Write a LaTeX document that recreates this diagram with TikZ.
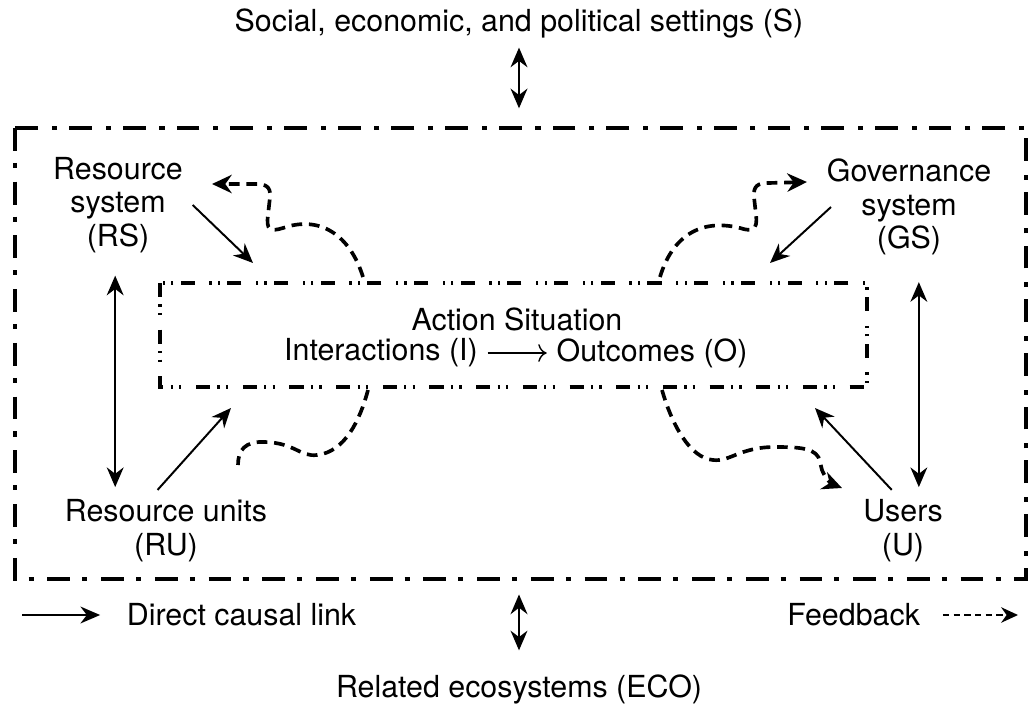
\documentclass[tikz,border=0pt]{standalone}
\usepackage{fontspec}
\setmainfont{TeX Gyre Heros}
\usetikzlibrary{arrows.meta}

\begin{document}
\begin{tikzpicture}[x=0.0125cm, y=-0.0125cm,
  txt/.style={font=\fontsize{10.8}{12}\selectfont, align=center},
  causal/.style={line width=0.7pt, -{Stealth[length=7pt,width=6pt]}},
  twoway/.style={line width=0.7pt, {Stealth[length=7pt,width=6pt]}-{Stealth[length=7pt,width=6pt]}},
  fdbk/.style={line width=1.3pt, dash pattern=on 3.8pt off 2.4pt},
  fdtip/.style={-{Stealth[length=7pt,width=6.5pt]}},
  sesbox/.style={line width=1.6pt, dash pattern=on 8.1pt off 4.3pt on 1.8pt off 4.9pt},
  asbox/.style={line width=1.2pt, dash pattern=on 5pt off 2.6pt on 0.8pt off 2.2pt on 0.8pt off 5.2pt}]

  \useasboundingbox (0,0) rectangle (1028,704);

  %--- outer setting and action situation ---
  \draw[sesbox] (15,128) rectangle (1026,579);
  \draw[asbox] (160,283) rectangle (867,387);
  \coordinate (sesN) at (519,128);
  \coordinate (sesS) at (519,579);

  %--- texts ---
  \node[txt] (S) at (519,23) {Social, economic, and political settings (S)};
  \node[txt] (RS) at (118,205) {Resource\\system\\(RS)};
  \node[txt] (GS) at (909,207) {Governance\\system\\(GS)};
  \node[txt] (RU) at (166,531) {Resource units\\(RU)};
  \node[txt] (U) at (903,531) {Users\\(U)};
  \node[txt] (AS) at (517,319) {Action Situation};
  \node[txt] (I) at (381,353) {Interactions (I)};
  \node[txt] (O) at (652,353) {Outcomes (O)};
  \node[txt] (ECO) at (519,689) {Related ecosystems (ECO)};

  %--- direct links ---
  \coordinate (inRS) at (253,263);
  \coordinate (inGS) at (770,263);
  \coordinate (inRU) at (231,408);
  \coordinate (inU) at (815,408);
  \draw[causal] (RS.east) -- (inRS);
  \draw[causal] ([xshift=5pt]GS.west) -- (inGS);
  \draw[causal] ([xshift=-3pt]RU.north) -- (inRU);
  \draw[causal] ([xshift=-4pt]U.north) -- (inU);
  \draw[line width=0.5pt, -{To[length=3pt]}] (I) -- (O);
  \draw[twoway, shorten <=4.5pt, shorten >=1pt] ([xshift=-1pt]RS.south) -- ([xshift=-1pt]RS.south |- RU.north);
  \draw[twoway, shorten <=6pt, shorten >=1pt] ([xshift=3.5pt]GS.south) -- ([xshift=3.5pt]GS.south |- U.north);
  \draw[twoway, shorten >=7pt] (S.south) -- (sesN);
  \draw[twoway, shorten <=5.5pt, shorten >=5pt] (sesS) -- (ECO.north);

  %--- feedbacks ---
  \draw[fdbk, fdtip] (363,277) .. controls (350,235) and (320,215) .. (283,228)
    .. controls (270,232) and (266,230) .. (268,215) -- (270,197)
    .. controls (271,186) and (265,184) .. (255,184) -- (212,184);
  \draw[fdbk, fdtip] (660,277) .. controls (672,237) and (700,218) .. (740,228)
    .. controls (752,232) and (758,230) .. (756,215) -- (754,197)
    .. controls (753,186) and (758,183) .. (768,183) -- (807,182);
  \draw[fdbk] (368,390) .. controls (360,420) and (345,452) .. (317,455)
    .. controls (300,457) and (295,443) .. (265,442)
    .. controls (245,441) and (238,450) .. (238,465);
  \draw[fdbk, fdtip] (662,390) .. controls (672,425) and (690,458) .. (713,460)
    .. controls (730,462) and (740,447) .. (775,447)
    .. controls (800,447) and (818,448) .. (820,462) -- (822,470)
    .. controls (826,480) and (832,484) .. (842,488);

  %--- legend ---
  \node[txt, anchor=west] (causalkey) at (117,615) {Direct causal link};
  \node[txt, anchor=east] (fbkey) at (930,615) {Feedback};
  \coordinate (ckey) at (22,615);
  \coordinate (fkey) at (1018,615);
  \draw[causal, shorten >=6pt] (ckey) -- (causalkey.west);
  \draw[line width=0.7pt, dash pattern=on 2.2pt off 1.6pt, -{Stealth[length=6pt,width=5.5pt]}, shorten <=4.6pt] (fbkey.east) -- (fkey);

\end{tikzpicture}
\end{document}
